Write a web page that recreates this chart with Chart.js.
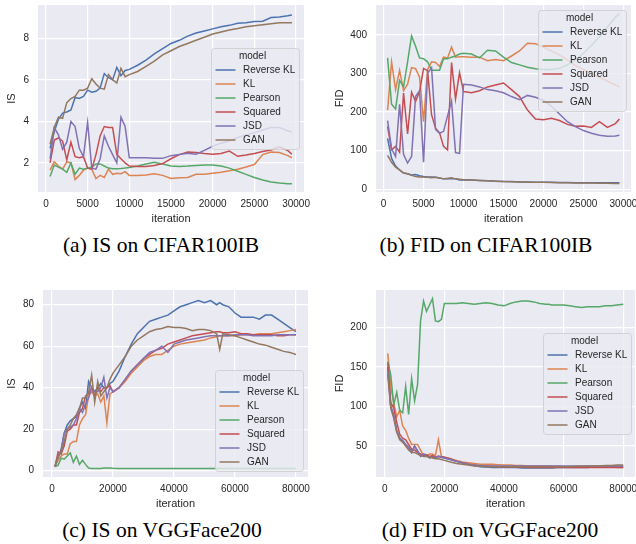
<!DOCTYPE html>
<html>
<head>
<meta charset="utf-8">
<script src="https://cdn.jsdelivr.net/npm/chart.js@4.4.0/dist/chart.umd.min.js"></script>
<style>
  body { margin: 0; width: 636px; height: 544px; background: #fff; position: relative; overflow: hidden; }
  .panel { position: absolute; width: 318px; height: 228px; }
  .caption { position: absolute; width: 318px; text-align: center; line-height: 24px;
             font-family: "Liberation Serif", "Times New Roman", serif; font-size: 21.5px; color: #000; }
</style>
</head>
<body>
<div class="panel" style="left:0;top:0"><canvas id="chartA"></canvas></div>
<div class="panel" style="left:318px;top:0"><canvas id="chartB"></canvas></div>
<div class="panel" style="left:0;top:285px"><canvas id="chartC"></canvas></div>
<div class="panel" style="left:318px;top:285px"><canvas id="chartD"></canvas></div>
<div class="caption" style="left:2px;top:233px">(a) IS on CIFAR100IB</div>
<div class="caption" style="left:327px;top:233px">(b) FID on CIFAR100IB</div>
<div class="caption" style="left:3px;top:518px">(c) IS on VGGFace200</div>
<div class="caption" style="left:331px;top:518px">(d) FID on VGGFace200</div>
<script>
// Models in legend order, seaborn "deep" palette
const modelNames = ['Reverse KL', 'KL', 'Pearson', 'Squared', 'JSD', 'GAN']
const modelColors = ['#4c72b0', '#dd8452', '#55a868', '#c44e52', '#8172b3', '#937860']

// CIFAR100IB iterations
const cifarIters = [500, 1000, 1500, 2000, 2500, 3000, 3500, 4000, 4500, 5000, 5500, 6000, 6500, 7000, 7500, 8000, 8500, 9000, 9500, 10000,
    11000, 12000, 13000, 14000, 15000, 16000, 17000, 18000, 19000, 20000, 21000, 22000, 23000, 24000, 25000, 26000, 27000, 28000, 29000, 29500]
const cifarXTicks = [0, 5000, 10000, 15000, 20000, 25000, 30000]

// (a) IS on CIFAR100IB
const isCifarRevKL = [2.7, 3.5, 4.1, 4.4, 4.45, 4.55, 5.15, 5.1, 5.2, 5.5, 5.4, 5.45, 5.6, 6.3, 6.1, 6.0, 6.6, 6.2, 6.45, 6.5,
    6.7, 6.95, 7.25, 7.5, 7.75, 7.9, 8.1, 8.25, 8.35, 8.45, 8.55, 8.62, 8.72, 8.75, 8.8, 8.82, 9.0, 9.02, 9.08, 9.12]
const isCifarKL = [1.65, 2.05, 1.85, 1.7, 2.05, 2.0, 1.2, 1.4, 1.65, 1.75, 1.7, 1.25, 1.4, 1.3, 1.7, 1.45, 1.5, 1.48, 1.58, 1.4,
    1.4, 1.42, 1.48, 1.4, 1.25, 1.28, 1.3, 1.45, 1.45, 1.5, 1.55, 1.62, 1.7, 1.8, 1.92, 2.4, 2.52, 2.5, 2.35, 2.25]
const isCifarPearson = [1.35, 1.9, 1.8, 1.7, 1.55, 2.0, 1.45, 1.75, 1.7, 1.75, 1.8, 1.95, 1.95, 1.85, 1.75, 1.72, 1.72, 1.73, 1.75, 1.78,
    1.85, 1.95, 2.03, 1.95, 1.85, 1.83, 1.85, 1.88, 1.9, 1.9, 1.85, 1.75, 1.6, 1.45, 1.3, 1.18, 1.08, 1.03, 1.0, 1.0]
const isCifarSquared = [2.0, 3.1, 3.2, 3.05, 2.15, 3.0, 2.3, 2.25, 2.3, 1.75, 1.7, 2.4, 3.3, 3.75, 3.7, 3.7, 2.4, 2.2, 2.0, 1.85,
    1.83, 1.83, 1.88, 1.97, 2.2, 2.4, 2.52, 2.5, 2.45, 2.42, 2.45, 2.57, 2.32, 2.38, 2.45, 2.55, 2.62, 2.77, 2.6, 2.42]
const isCifarJSD = [2.2, 3.7, 3.35, 2.65, 3.0, 4.0, 3.75, 2.7, 2.3, 3.95, 1.75, 1.7, 2.2, 3.3, 2.8, 2.4, 2.0, 4.2, 3.75, 2.25,
    2.25, 2.25, 2.22, 2.22, 2.35, 2.4, 2.47, 2.42, 2.6, 2.8, 2.95, 3.05, 3.22, 3.35, 3.45, 3.58, 3.7, 3.7, 3.55, 3.48]
const isCifarGAN = [2.9, 3.7, 4.2, 4.15, 4.9, 5.1, 5.2, 5.5, 5.5, 5.6, 6.05, 5.8, 5.6, 5.55, 6.25, 6.0, 5.85, 6.55, 6.15, 6.25,
    6.4, 6.65, 6.9, 7.2, 7.4, 7.6, 7.75, 7.9, 8.05, 8.2, 8.3, 8.4, 8.47, 8.55, 8.6, 8.65, 8.7, 8.75, 8.75, 8.75]
const isCifarYTicks = [2, 4, 6, 8]

// (b) FID on CIFAR100IB
const fidCifarRevKL = [132, 80, 60, 50, 42, 40, 37, 38, 35, 33, 32, 32, 31, 29, 27, 28, 27, 27, 24, 25,
    24, 23, 22, 21, 20, 20, 19, 19, 18.5, 18, 18, 17.5, 17.5, 17, 17, 17, 17, 17, 17, 17]
const fidCifarKL = [205, 330, 258, 308, 255, 272, 315, 312, 290, 175, 310, 330, 328, 318, 342, 340, 368, 342, 343, 343,
    342, 342, 333, 336, 333, 345, 358, 378, 377, 368, 358, 348, 335, 320, 310, 300, 290, 280, 270, 265]
const fidCifarPearson = [340, 220, 208, 282, 265, 330, 397, 370, 340, 338, 330, 308, 308, 308, 338, 338, 342, 345, 350, 352,
    350, 340, 360, 358, 342, 328, 322, 316, 312, 310, 310, 313, 322, 335, 352, 372, 395, 420, 445, 455]
const fidCifarSquared = [163, 102, 111, 96, 249, 143, 251, 227, 253, 313, 307, 193, 158, 146, 111, 102, 328, 234, 302, 253,
    250, 255, 265, 270, 275, 258, 240, 205, 182, 180, 184, 178, 168, 163, 164, 160, 175, 160, 170, 182]
const fidCifarJSD = [178, 105, 85, 220, 90, 68, 85, 240, 255, 70, 300, 315, 155, 145, 150, 190, 228, 95, 93, 272,
    270, 265, 258, 255, 250, 240, 232, 243, 238, 230, 215, 195, 175, 162, 152, 145, 140, 137, 138, 140]
const fidCifarGAN = [88, 70, 57, 50, 42, 40, 36, 33, 32, 32, 31, 30, 31, 29, 27, 28, 30, 27, 26, 25,
    24, 23, 22, 21, 20, 19.5, 19, 18.5, 18, 18, 17.5, 17, 17, 16.5, 16, 16, 15.5, 15.5, 15, 15]
const fidCifarYTicks = [0, 100, 200, 300, 400]

// VGGFace200 iterations
const vggIters = [1000, 2000, 3000, 4000, 5000, 6000, 7000, 8000, 9000, 10000, 11000, 12000, 13000, 14000, 15000, 16000, 17000, 18000, 19000, 20000,
    22000, 24000, 26000, 28000, 30000, 32000, 34000, 36000, 38000, 40000, 42000, 44000, 46000, 48000, 50000, 52000, 54000, 55000,
    56000, 58000, 60000, 62000, 64000, 66000, 68000, 70000, 72000, 74000, 76000, 78000, 80000]
const vggXTicks = [0, 20000, 40000, 60000, 80000]

// (c) IS on VGGFace200
const isVggRevKL = [2, 6, 10, 18, 22, 24, 25, 26, 30, 33, 30, 43, 40, 38, 40, 42, 40, 40, 42, 43,
    48, 55, 61, 66, 69, 72, 73, 74, 75, 77, 79, 80, 81, 82, 81, 82, 80, 81, 80, 79, 76, 74, 74, 74, 73, 75, 75, 73, 71, 69, 67]
const isVggKL = [2, 5, 7, 8, 8, 13, 14, 14, 22, 25, 27, 36, 38, 36, 37, 33, 36, 23, 37, 38,
    40, 43, 47, 50, 53, 55, 56, 56, 58, 60, 61, 61.5, 62, 62.5, 63, 64, 64.5, 65, 65, 65, 65, 65.5, 65.5, 65.5, 66, 66, 66, 66.5, 67, 67.5, 68]
const isVggPearson = [2, 2.5, 6, 5.5, 7, 8.5, 4, 7, 3, 5, 3, 1.2, 1, 1, 1, 1, 1.2, 1.2, 1.2, 1.1,
    1, 1, 1, 1, 1, 1, 1, 1, 1, 1, 1, 1, 1, 1, 1, 1, 1, 1, 1, 1, 1, 1, 1, 1, 1, 1, 1, 1, 1, 1, 1]
const isVggSquared = [2, 9, 8, 12, 19, 20, 22, 22, 28, 30, 36, 37, 40, 36, 40, 38, 40, 40, 41, 38,
    40, 44, 48, 51, 54, 56, 58, 59, 61, 62, 63, 64, 65, 65.5, 66, 66.5, 67, 67, 66.5, 66.5, 67, 66, 66, 65.5, 65.5, 65.5, 65.5, 65, 65, 65.5, 65.5]
const isVggJSD = [2, 7, 10, 18, 20, 21, 22, 25, 30, 28, 32, 35, 40, 38, 38, 40, 45, 35, 40, 38,
    40, 44, 48, 51, 54, 57, 58, 60, 57, 61, 62, 63, 63.5, 64, 64.5, 65, 65, 65, 65, 65, 65.5, 65.5, 65.5, 65, 65, 65, 65, 65.5, 65.5, 65.5, 65.5]
const isVggGAN = [2, 7, 9, 14, 20, 22, 25, 27, 30, 35, 35, 38, 46, 33, 43, 36, 38, 40, 44, 47,
    51, 55, 60, 63, 65, 67, 68, 68.5, 69.5, 69, 69, 68.5, 67.5, 68, 68, 67.5, 66, 58.5, 66, 65.5, 65, 64, 63, 62, 61, 60.5, 59.5, 58.5, 57.5, 57, 56]
const isVggYTicks = [0, 20, 40, 60, 80]

// (d) FID on VGGFace200
const fidVggRevKL = [150, 100, 88, 68, 60, 57, 52, 48, 42, 50, 44, 37, 40, 39, 35, 37, 36, 37, 36, 35,
    33, 31, 29, 27, 25.5, 24, 23.5, 23, 23, 23, 23, 23, 22.5, 22.5, 22.5, 22.5, 22.5, 22.5, 22.5, 23, 23, 23, 23, 23, 23, 23.5, 23.5, 23.5, 24, 24, 24]
const fidVggKL = [167, 125, 105, 87, 95, 75, 70, 60, 52, 52, 52, 45, 38, 38, 40, 40, 38, 58, 37, 36,
    34, 32, 30, 29, 28, 27, 27, 27, 26.5, 26, 26, 25.5, 25.5, 25, 25, 25, 25, 25, 24.5, 24.5, 24, 24, 24, 24, 24, 24, 23.5, 23.5, 23.5, 23, 23]
const fidVggPearson = [157, 140, 102, 118, 95, 92, 125, 90, 135, 107, 128, 208, 233, 220, 228, 236, 208, 207, 210, 230,
    230, 230, 231, 230, 229, 230, 231, 230, 228, 227, 230, 232, 233, 233, 232, 230, 229, 229, 228, 228, 228, 227, 226, 225, 226, 226, 226, 227, 227, 228, 229]
const fidVggSquared = [155, 105, 98, 80, 65, 60, 58, 52, 46, 45, 42, 40, 38, 39, 37, 38, 36, 37, 37, 36,
    34, 31, 29, 27, 26, 25, 25, 24.5, 24, 24, 23.5, 23.5, 23.5, 23, 23, 23, 23, 23, 23, 23, 23, 23, 23, 23, 23, 23, 23, 23, 23, 23, 23]
const fidVggJSD = [145, 100, 90, 70, 60, 55, 52, 48, 42, 50, 44, 38, 40, 37, 36, 36, 35, 37, 36, 35,
    33, 31, 29, 27, 26, 25.5, 25, 25, 25, 25, 25, 25, 25, 25, 25, 25, 25, 25, 25, 25, 25, 25, 25, 25, 25, 25, 25, 25, 25, 25, 25]
const fidVggGAN = [140, 98, 85, 68, 58, 55, 50, 45, 42, 42, 40, 38, 37, 37, 36, 35, 34, 34, 33, 32,
    30, 28, 27, 26, 25, 24.5, 24, 24, 24, 24, 24, 24, 24, 24, 24, 24, 24, 24, 24, 24, 24, 24, 24.5, 24.5, 25, 25, 25, 25.5, 25.5, 26, 26]
const fidVggYTicks = [50, 100, 150, 200]

const textColor = '#262626'
const fontFamily = '"Liberation Sans", Arial, sans-serif'

// Axes background + in-plot legend box like seaborn darkgrid
const seabornFrame = {
    id: 'seabornFrame',
    beforeDraw(chart) {
        const { ctx, chartArea: a } = chart
        ctx.save()
        ctx.fillStyle = '#eaeaf2'
        ctx.fillRect(a.left, a.top, a.right - a.left, a.bottom - a.top)
        ctx.restore()
    },
    afterDatasetsDraw(chart, args, opts) {
        const { ctx, chartArea: a } = chart
        const w = 88, h = 101
        const x = Math.round(a.right - opts.right - w) + 0.5
        const y = Math.round(a.top + opts.top) + 0.5
        ctx.save()
        ctx.beginPath()
        ctx.roundRect(x, y, w, h, 3)
        ctx.fillStyle = 'rgba(234, 234, 242, 0.8)'
        ctx.fill()
        ctx.strokeStyle = 'rgba(204, 204, 204, 0.8)'
        ctx.lineWidth = 1
        ctx.stroke()
        ctx.font = '10px ' + fontFamily
        ctx.fillStyle = textColor
        ctx.textBaseline = 'middle'
        ctx.textAlign = 'center'
        ctx.fillText('model', x + w / 2 - 3, y + 7.5)
        ctx.textAlign = 'left'
        modelNames.forEach((name, i) => {
            const ly = y + 21.5 + i * 14
            ctx.strokeStyle = modelColors[i]
            ctx.lineWidth = 1.5
            ctx.beginPath()
            ctx.moveTo(x + 4, ly)
            ctx.lineTo(x + 24, ly)
            ctx.stroke()
            ctx.fillStyle = textColor
            ctx.fillText(name, x + 31.5, ly)
        })
        ctx.restore()
    }
}

function makePanel(canvasId, iters, series, cfg) {
    const datasets = series.map((values, i) => ({
        label: modelNames[i],
        data: values.map((v, j) => ({ x: iters[j], y: v })),
        borderColor: modelColors[i],
        borderWidth: 1.5,
        pointRadius: 0,
        tension: 0,
        order: series.length - i
    }))
    const tickFont = { family: fontFamily, size: 10 }
    const titleFont = { family: fontFamily, size: 11 }
    new Chart(document.getElementById(canvasId), {
        type: 'line',
        data: { datasets: datasets },
        options: {
            animation: false,
            responsive: true,
            maintainAspectRatio: false,
            layout: { autoPadding: false, padding: cfg.padding },
            plugins: {
                legend: { display: false },
                tooltip: { enabled: false },
                seabornFrame: cfg.legendBox
            },
            scales: {
                x: {
                    type: 'linear',
                    min: cfg.xRange[0],
                    max: cfg.xRange[1],
                    // fixed height, and no extra room for overflowing end labels
                    afterFit: s => { s.height = 36; s.paddingLeft = 0; s.paddingRight = 0 },
                    afterBuildTicks: s => { s.ticks = cfg.xTicks.map(v => ({ value: v })) },
                    border: { display: false },
                    grid: { color: '#ffffff', lineWidth: 1.2, drawTicks: false },
                    ticks: { color: textColor, font: tickFont, padding: 6, autoSkip: false, maxRotation: 0,
                             callback: v => String(v) },
                    title: { display: true, text: 'iteration', color: textColor, font: titleFont, padding: { top: 0, bottom: 2 } }
                },
                y: {
                    type: 'linear',
                    min: cfg.yRange[0],
                    max: cfg.yRange[1],
                    afterFit: s => { s.width = cfg.yWidth; s.paddingTop = 0; s.paddingBottom = 0 },
                    afterBuildTicks: s => { s.ticks = cfg.yTicks.map(v => ({ value: v })) },
                    border: { display: false },
                    grid: { color: '#ffffff', lineWidth: 1.2, drawTicks: false },
                    ticks: { color: textColor, font: tickFont, padding: 9, autoSkip: false,
                             callback: v => String(v) },
                    title: { display: true, text: cfg.yTitle, color: textColor, font: titleFont, padding: { top: 5, bottom: 0 } }
                }
            }
        },
        plugins: [seabornFrame]
    })
}

makePanel('chartA', cifarIters,
    [isCifarRevKL, isCifarKL, isCifarPearson, isCifarSquared, isCifarJSD, isCifarGAN], {
        xRange: [-950, 30950], yRange: [0.6, 9.6], xTicks: cifarXTicks, yTicks: isCifarYTicks, yTitle: 'IS',
        yWidth: 38, padding: { top: 5, right: 14, left: 0, bottom: 0 }, legendBox: { right: 5, top: 42.7 }
    })
makePanel('chartB', cifarIters,
    [fidCifarRevKL, fidCifarKL, fidCifarPearson, fidCifarSquared, fidCifarJSD, fidCifarGAN], {
        xRange: [-950, 30950], yRange: [-7, 477], xTicks: cifarXTicks, yTicks: fidCifarYTicks, yTitle: 'FID',
        yWidth: 48, padding: { top: 5, right: 5, left: 10, bottom: 0 }, legendBox: { right: 5, top: 5 }
    })
makePanel('chartC', vggIters,
    [isVggRevKL, isVggKL, isVggPearson, isVggSquared, isVggJSD, isVggGAN], {
        xRange: [-2950, 83950], yRange: [-3.1, 87.1], xTicks: vggXTicks, yTicks: isVggYTicks, yTitle: 'IS',
        yWidth: 43, padding: { top: 5, right: 10, left: 0, bottom: 0 }, legendBox: { right: 5, top: 80 }
    })
makePanel('chartD', vggIters,
    [fidVggRevKL, fidVggKL, fidVggPearson, fidVggSquared, fidVggJSD, fidVggGAN], {
        xRange: [-2950, 83950], yRange: [11, 247], xTicks: vggXTicks, yTicks: fidVggYTicks, yTitle: 'FID',
        yWidth: 48, padding: { top: 5, right: 1, left: 10, bottom: 0 }, legendBox: { right: 4, top: 42.7 }
    })
</script>
</body>
</html>
